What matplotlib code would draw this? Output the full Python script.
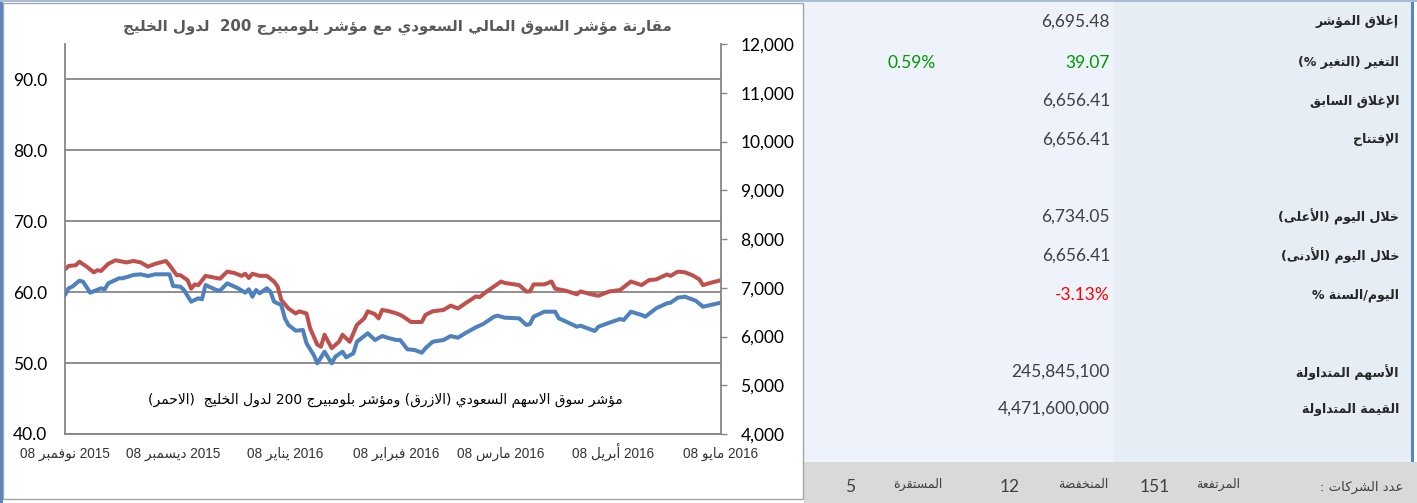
""" Saudi index vs Bloomberg GCC 200 + daily summary panel """

import re
import matplotlib
matplotlib.use("Agg")
import matplotlib.pyplot as plt
from matplotlib.patches import Rectangle
import pandas as pd


# === 1. data ===
start_date = "2015-11-08"

# Bloomberg GCC 200 (red, left axis), days since start_date
red_day = [0, 1, 3, 4, 6, 8, 9, 10, 12, 14, 17, 19, 21, 23, 25, 28, 29, 31, 32, 34,
           35, 36, 37, 39, 42, 43, 45, 47, 49, 50, 51, 52, 54, 56, 58, 59, 60, 62, 64, 65,
           67, 68, 70, 71, 72, 74, 76, 77, 79, 81, 83, 84, 86, 87, 88, 90, 92, 93, 94, 96,
           99, 100, 102, 105, 107, 109, 111, 114, 115, 117, 119, 121, 122, 126, 128, 129, 130, 133, 135, 136,
           139, 142, 143, 146, 148, 151, 154, 157, 160, 162, 164, 167, 168, 170, 172, 174, 176, 177, 179, 182]
red_val = [63.2, 63.7, 63.8, 64.3, 63.6, 62.8, 63.1, 63.0, 64.0, 64.5, 64.2, 64.4, 64.2, 63.6, 64.0, 64.4, 63.8, 62.4, 62.4, 61.7,
           60.5, 61.1, 61.0, 62.3, 62.0, 61.9, 62.9, 62.7, 62.3, 62.6, 62.0, 62.6, 62.3, 62.3, 61.5, 60.8, 58.9, 57.7, 57.0, 57.3,
           57.0, 54.9, 52.6, 52.3, 54.0, 52.1, 53.0, 54.0, 53.0, 55.4, 56.3, 57.3, 56.9, 56.3, 57.5, 57.3, 57.0, 56.8, 56.5, 55.8,
           55.8, 56.8, 57.3, 57.5, 58.1, 57.7, 58.4, 59.4, 59.3, 60.1, 60.8, 61.5, 61.3, 61.0, 60.1, 60.1, 61.1, 61.1, 61.5, 60.5,
           60.2, 59.7, 60.1, 59.7, 59.5, 60.1, 60.3, 61.5, 61.0, 61.7, 61.8, 62.5, 62.3, 62.9, 62.8, 62.4, 61.8, 61.0, 61.3, 61.7]

# Saudi TASI (blue, right axis)
blue_day = [0, 1, 2, 4, 5, 7, 10, 11, 12, 15, 16, 19, 21, 23, 25, 29, 30, 32, 33, 35,
            37, 38, 39, 42, 43, 45, 48, 50, 51, 52, 53, 54, 56, 57, 58, 60, 61, 62, 64, 66,
            67, 69, 70, 72, 74, 75, 77, 78, 80, 81, 84, 86, 88, 90, 92, 93, 95, 97, 99, 100,
            102, 105, 107, 109, 111, 114, 116, 119, 120, 122, 126, 128, 129, 130, 133, 136, 137, 140, 142, 143,
            147, 148, 151, 154, 155, 157, 160, 161, 164, 167, 168, 170, 172, 175, 177, 182]
blue_val = [6851, 6989, 7022, 7145, 7124, 6898, 6989, 6968, 7091, 7194, 7194, 7262, 7276, 7241, 7276, 7276, 7036, 7022, 6954, 6714,
            6784, 6763, 7056, 6954, 6940, 7091, 6989, 6898, 6968, 6816, 6954, 6886, 6989, 6919, 6714, 6646, 6373, 6236, 6119, 6133,
            5861, 5621, 5450, 5688, 5450, 5586, 5688, 5573, 5655, 5893, 6066, 5928, 6010, 5963, 5928, 5928, 5737, 5723, 5668, 5758,
            5893, 5928, 6010, 5975, 6066, 6189, 6256, 6406, 6427, 6386, 6373, 6236, 6256, 6406, 6509, 6509, 6373, 6271, 6201, 6222,
            6113, 6201, 6283, 6359, 6338, 6509, 6441, 6406, 6578, 6681, 6693, 6796, 6816, 6734, 6611, 6695]

tick_dates = ["2015-11-08", "2015-12-08", "2016-01-08", "2016-02-08", "2016-03-08", "2016-04-08", "2016-05-08"]
tick_months = ["نوفمبر", "ديسمبر", "يناير", "فبراير", "مارس", "أبريل", "مايو"]
tick_years = ["2015", "2015", "2016", "2016", "2016", "2016", "2016"]

title_text = "مقارنة مؤشر السوق المالي السعودي مع مؤشر بلومبيرج 200  لدول الخليج"
note_text = "مؤشر سوق الاسهم السعودي (الازرق) ومؤشر بلومبيرج 200 لدول الخليج  (الاحمر)"

row_labels = ["إغلاق المؤشر", "التغير (التغير %)", "الإغلاق السابق", "الإفتتاح", "",
              "خلال اليوم (الأعلى)", "خلال اليوم (الأدنى)", "اليوم/السنة %", "",
              "الأسهم المتداولة", "القيمة المتداولة"]
row_values = ["6,695.48", "39.07", "6,656.41", "6,656.41", "",
              "6,734.05", "6,656.41", "-3.13%", "",
              "245,845,100", "4,471,600,000"]
row_colors = ["#404040", "#009900", "#404040", "#404040", "#404040",
              "#404040", "#404040", "#FF0000", "#404040", "#404040", "#404040"]
change_pct = "0.59%"

count_labels = ["عدد الشركات :", "المرتفعة", "المنخفضة", "المستقرة"]
count_values = ["151", "12", "5"]


# === 2. minimal arabic shaping (matplotlib has no bidi / joining) ===
AR_FORMS = {
    '\u0621': (0xFE80, 1), '\u0622': (0xFE81, 2), '\u0623': (0xFE83, 2), '\u0624': (0xFE85, 2),
    '\u0625': (0xFE87, 2), '\u0626': (0xFE89, 4), '\u0627': (0xFE8D, 2), '\u0628': (0xFE8F, 4),
    '\u0629': (0xFE93, 2), '\u062A': (0xFE95, 4), '\u062B': (0xFE99, 4), '\u062C': (0xFE9D, 4),
    '\u062D': (0xFEA1, 4), '\u062E': (0xFEA5, 4), '\u062F': (0xFEA9, 2), '\u0630': (0xFEAB, 2),
    '\u0631': (0xFEAD, 2), '\u0632': (0xFEAF, 2), '\u0633': (0xFEB1, 4), '\u0634': (0xFEB5, 4),
    '\u0635': (0xFEB9, 4), '\u0636': (0xFEBD, 4), '\u0637': (0xFEC1, 4), '\u0638': (0xFEC5, 4),
    '\u0639': (0xFEC9, 4), '\u063A': (0xFECD, 4), '\u0641': (0xFED1, 4), '\u0642': (0xFED5, 4),
    '\u0643': (0xFED9, 4), '\u0644': (0xFEDD, 4), '\u0645': (0xFEE1, 4), '\u0646': (0xFEE5, 4),
    '\u0647': (0xFEE9, 4), '\u0648': (0xFEED, 2), '\u0649': (0xFEEF, 2), '\u064A': (0xFEF1, 4),
}
LAM_ALEF = {'\u0622': 0xFEF5, '\u0623': 0xFEF7, '\u0625': 0xFEF9, '\u0627': 0xFEFB}
MIRROR = {'(': ')', ')': '('}


def shape(s):
    items = []
    i = 0
    while i < len(s):
        if s[i] == '\u0644' and i + 1 < len(s) and s[i + 1] in LAM_ALEF:
            items.append(('LA', s[i + 1]))
            i += 2
        else:
            items.append(s[i])
            i += 1

    def joins_left(it):
        return not isinstance(it, tuple) and it in AR_FORMS and AR_FORMS[it][1] == 4

    def accepts(it):
        return isinstance(it, tuple) or (it in AR_FORMS and AR_FORMS[it][1] > 1)

    out = []
    for k, it in enumerate(items):
        prev = items[k - 1] if k > 0 else None
        nxt = items[k + 1] if k + 1 < len(items) else None
        p = prev is not None and joins_left(prev) and accepts(it)
        if isinstance(it, tuple):
            out.append(chr(LAM_ALEF[it[1]] + (1 if p else 0)))
            continue
        if it not in AR_FORMS:
            out.append(it)
            continue
        base, n = AR_FORMS[it]
        nx = n == 4 and nxt is not None and accepts(nxt)
        if n == 1:
            out.append(chr(base))
        elif p and nx:
            out.append(chr(base + 3))
        elif p:
            out.append(chr(base + 1))
        elif nx:
            out.append(chr(base + 2))
        else:
            out.append(chr(base))
    return "".join(out)


def ar(s):
    runs = re.findall(r'[0-9A-Za-z][0-9A-Za-z.,]*|.', shape(s))
    return "".join(MIRROR.get(r, r) for r in reversed(runs))


# === 3. figure ===
W, H = 1417, 503
fig = plt.figure(figsize=(W / 100, H / 100), dpi=100)
fig.patch.set_facecolor("white")


def fx(x):
    return x / W


def fy(y):
    return 1 - y / H


def box(x0, y0, x1, y1, color, **kw):
    fig.patches.append(Rectangle((fx(x0), fy(y1)), (x1 - x0) / W, (y1 - y0) / H,
                                 transform=fig.transFigure, facecolor=color, **kw))


# panel backgrounds
box(804, 0, 1114, 462, "#EEF2FA", edgecolor="none")
box(1114, 0, 1411, 462, "#E7EDF5", edgecolor="none")
box(804, 462, 1417, 503, "#D9D9D9", edgecolor="none")
box(1411, 0, 1414, 462, "#5A86C0", edgecolor="none")
# chart frame
box(3, 3, 803, 499, "none", edgecolor="#A6A6A6", linewidth=1.0)
box(0, 0, 3, 503, "#5A86C0", edgecolor="none")
box(0, 0, 1417, 2, "#A9BCD6", edgecolor="none")

# === 4. chart ===
ax = fig.add_axes([fx(65), fy(434), 656 / W, 390 / H])
ax2 = ax.twinx()

t0 = pd.Timestamp(start_date)
red_dates = t0 + pd.to_timedelta(red_day, unit="D")
blue_dates = t0 + pd.to_timedelta(blue_day, unit="D")

ax.plot(red_dates, red_val, color="#C0504D", lw=2.9, solid_joinstyle="round", solid_capstyle="round")
ax2.plot(blue_dates, blue_val, color="#4F81BD", lw=2.9, solid_joinstyle="round", solid_capstyle="round")

ax.set_xlim(pd.Timestamp(tick_dates[0]), pd.Timestamp(tick_dates[-1]))
ax.set_ylim(40, 95)
ax.set_yticks([40, 50, 60, 70, 80, 90])
ax.set_yticklabels([f"{v:.1f}" for v in [40, 50, 60, 70, 80, 90]], fontsize=12.5, family="Lato")
ax.yaxis.grid(True, color="#868686", lw=1.3)
ax.set_axisbelow(True)

ax2.set_ylim(4000, 12000)
yt2 = list(range(4000, 12001, 1000))
ax2.set_yticks(yt2)
ax2.set_yticklabels([f"{v:,}" for v in yt2], fontsize=12.5, family="Lato")

xt = [pd.Timestamp(d) for d in tick_dates]
ax.set_xticks(xt)
ax.set_xticklabels([f"08 {ar(m)} {y}" for m, y in zip(tick_months, tick_years)],
                   fontsize=9.8, family=["Liberation Sans", "DejaVu Sans"], color="#333333")
for t in ax.get_xticklabels():
    t.set_verticalalignment("baseline")

for a in (ax, ax2):
    a.spines["top"].set_visible(False)
    for s in a.spines.values():
        s.set_color("#868686")
        s.set_linewidth(1.3)
ax2.spines["left"].set_visible(False)
ax2.spines["bottom"].set_visible(False)
ax.spines["right"].set_visible(False)

ax.tick_params(axis="y", length=0, pad=13, colors="black")
ax.tick_params(axis="x", length=0, pad=17)
ax2.tick_params(axis="y", length=4, width=1.0, color="#868686", pad=10, labelcolor="black")

fig.text(fx(397), fy(27), ar(title_text), ha="center", va="center",
         fontsize=10.8, fontweight="bold", color="#595959", family=["DejaVu Sans"])
fig.text(fx(385), fy(400), ar(note_text), ha="center", va="center",
         fontsize=10, color="black", family=["DejaVu Sans"])

# === 5. summary panel ===
row_y = [22, 63, 101, 140, 178, 217, 256, 295, 334, 372, 409]
num_font = ["Liberation Sans Narrow", "Lato"]
for y, lab, val, col in zip(row_y, row_labels, row_values, row_colors):
    if lab:
        fig.text(fx(1399), fy(y), ar(lab), ha="right", va="center", fontsize=9,
                 fontweight="bold", color="#262626", family=["DejaVu Sans"])
    if val:
        fig.text(fx(1110), fy(y), val, ha="right", va="center", fontsize=12.5,
                 color=col, family=num_font)
fig.text(fx(936), fy(row_y[1]), change_pct, ha="right", va="center", fontsize=12.5,
         color="#009900", family=num_font)

fig.text(fx(1403), fy(487), ar(count_labels[0]), ha="right", va="center", fontsize=9.5,
         color="#404040", family=["DejaVu Sans"])
for x, lab in zip([1218, 1083, 918], count_labels[1:]):
    fig.text(fx(x), fy(484), ar(lab), ha="center", va="center", fontsize=9,
             color="#404040", family=["DejaVu Sans"])
for x, val in zip([1155, 1010, 850], count_values):
    fig.text(fx(x), fy(487), val, ha="center", va="center", fontsize=12.5,
             color="#404040", family=num_font)

fig.savefig("out.png", dpi=100)
